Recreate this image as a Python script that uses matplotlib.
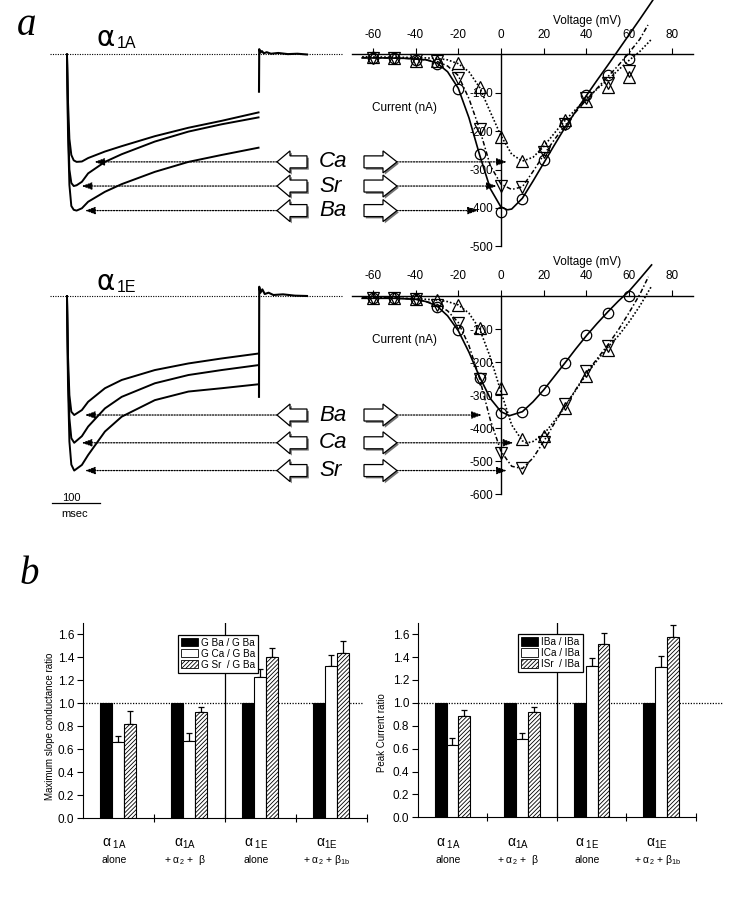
import numpy as np
import matplotlib
matplotlib.use("Agg")
import matplotlib.pyplot as plt
from matplotlib.patches import Polygon, Patch

plt.rcParams['font.family'] = ['Liberation Sans', 'DejaVu Sans']
plt.rcParams['mathtext.fontset'] = 'custom'
plt.rcParams['mathtext.rm'] = 'Liberation Sans'
plt.rcParams['mathtext.it'] = 'Liberation Sans:italic'
plt.rcParams['hatch.linewidth'] = 0.6
plt.rcParams['axes.unicode_minus'] = False

# ------------------------------------------------------------------ data
# current traces (time in ms, current in nA)
trace_t_1A = [0, 2, 5, 9, 14, 20, 31, 44, 79, 114, 183, 253, 322, 399]
trace_1A_Ca = [0, -120, -220, -262, -276, -280, -279, -270, -253, -239, -213, -191, -173, -151]
trace_1A_Sr = [0, -170, -300, -335, -343, -341, -332, -310, -280, -260, -227, -201, -182, -164]
trace_1A_Ba = [0, -200, -340, -395, -405, -407, -401, -384, -358, -338, -306, -280, -262, -243]
tail_t_1A = [400, 400.5, 403, 406, 410, 416, 425, 440, 460, 480, 500]
tail_1A = [-97, 14, 5, 9, 3, 6, 2, 4, 1, 2, 0]

trace_t_1E = [0, 2, 5, 9, 15, 31, 44, 79, 114, 183, 253, 322, 399]
trace_1E_Ba = [0, -180, -300, -350, -360, -345, -320, -279, -254, -224, -204, -189, -174]
trace_1E_Ca = [0, -220, -370, -430, -444, -424, -395, -340, -305, -264, -239, -224, -209]
trace_1E_Sr = [0, -260, -440, -510, -528, -511, -481, -410, -365, -315, -289, -279, -267]
tail_t_1E = [400, 400.5, 403, 407, 412, 420, 430, 450, 475, 500]
tail_1E = [-305, 28, 10, 20, 6, 10, 3, 5, 1, 0]

# I-V relations (mV, nA)
iv_V = [-60, -50, -40, -30, -20, -10, 0, 10, 20, 30, 40, 50, 60]
iv_1A_Ba = [-10, -10, -14, -25, -90, -259, -410, -378, -275, -180, -106, -54, -13]
iv_1A_Ca = [-7, -10, -16, -16, -23, -84, -214, -279, -239, -171, -120, -86, -58]
iv_1A_Sr = [-8, -10, -14, -16, -62, -195, -343, -345, -253, -181, -113, -74, -42]
iv_1E_Ba = [-7, -7, -10, -34, -103, -249, -355, -350, -284, -202, -118, -52, 1]
iv_1E_Ca = [-5, -7, -10, -12, -27, -98, -279, -434, -422, -338, -241, -163, np.nan]
iv_1E_Sr = [-5, -7, -10, -27, -83, -251, -476, -521, -441, -327, -227, -150, np.nan]

# fitted curves
fit_1A_Ba_V = [-65, -55, -45, -35, -30, -25, -20, -15, -10, -5, 0, 3, 5, 10, 15, 20, 25, 30, 35, 40, 45, 50, 55, 60, 65, 71]
fit_1A_Ba_I = [-9, -9, -10, -14, -22, -45, -88, -165, -262, -350, -398, -405, -403, -375, -330, -283, -236, -190, -148, -107, -67, -28, 12, 52, 92, 141]
fit_1A_Ca_V = [-65, -50, -40, -30, -25, -20, -15, -10, -5, 0, 5, 10, 15, 20, 25, 30, 35, 40, 45, 50, 55, 60, 65, 70.5]
fit_1A_Ca_I = [-6, -7, -8, -10, -14, -24, -45, -86, -150, -212, -260, -278, -268, -240, -205, -172, -143, -116, -90, -66, -40, -15, 8, 40]
fit_1A_Sr_V = [-65, -50, -40, -30, -25, -20, -15, -10, -5, 0, 5, 10, 15, 20, 25, 30, 35, 40, 45, 50, 55, 60, 65, 68.8]
fit_1A_Sr_I = [-8, -9, -11, -18, -30, -55, -115, -195, -290, -338, -352, -345, -305, -262, -222, -185, -150, -118, -88, -58, -28, 5, 40, 77]
fit_1E_Ba_V = [-65, -50, -40, -35, -30, -25, -20, -15, -10, -5, 0, 4, 10, 15, 20, 25, 30, 35, 40, 45, 50, 55, 60, 65, 70.5]
fit_1E_Ba_I = [-7, -7, -10, -17, -30, -60, -105, -170, -245, -310, -350, -362, -350, -320, -284, -243, -202, -160, -120, -83, -48, -15, 15, 52, 94]
fit_1E_Ca_V = [-65, -50, -40, -30, -25, -20, -15, -10, -5, 0, 5, 10, 12, 15, 20, 25, 30, 35, 40, 45, 50, 55, 60, 65, 70.5]
fit_1E_Ca_I = [-5, -6, -8, -12, -17, -27, -52, -100, -185, -290, -390, -438, -445, -440, -418, -378, -333, -285, -236, -195, -155, -120, -78, -30, 30]
fit_1E_Sr_V = [-65, -50, -40, -30, -25, -20, -15, -10, -5, 0, 5, 10, 15, 20, 25, 30, 35, 40, 45, 50, 55, 60, 65, 69]
fit_1E_Sr_I = [-5, -6, -9, -25, -45, -80, -150, -250, -375, -470, -515, -522, -490, -440, -385, -333, -283, -232, -190, -148, -102, -50, 5, 58]

# bar charts
groups = ["1A alone", "1A + a2 + b", "1E alone", "1E + a2 + b1b"]
g_Ba = [1.0, 1.0, 1.0, 1.0]
g_Ca = [0.66, 0.67, 1.23, 1.33]
g_Ca_err = [0.06, 0.07, 0.07, 0.09]
g_Sr = [0.82, 0.925, 1.40, 1.435]
g_Sr_err = [0.11, 0.045, 0.08, 0.11]
p_Ba = [1.0, 1.0, 1.0, 1.0]
p_Ca = [0.635, 0.684, 1.322, 1.316]
p_Ca_err = [0.058, 0.053, 0.073, 0.094]
p_Sr = [0.883, 0.924, 1.512, 1.576]
p_Sr_err = [0.056, 0.041, 0.097, 0.103]

cat_top = [r"$\mathrm{α}_{\ \mathrm{1A}}$", r"$\mathrm{α}_{\mathrm{1A}}$",
           r"$\mathrm{α}_{\ \mathrm{1E}}$", r"$\mathrm{α}_{\mathrm{1E}}$"]
cat_bot = ["alone", r"+ $\mathrm{α}_{2}$ +  β", "alone", r"+ $\mathrm{α}_{2}$ + $\mathrm{β}_{\mathrm{1b}}$"]
leg_G = ["G Ba / G Ba", "G Ca / G Ba", "G Sr  / G Ba"]
leg_I = ["IBa / IBa", "ICa / IBa", "ISr  / IBa"]

# ------------------------------------------------------------------ layout
W, H = 731, 900
fig = plt.figure(figsize=(W / 100, H / 100), dpi=100)


def px_axes(x0, y0, x1, y1):
    a = fig.add_axes([x0 / W, 1 - y1 / H, (x1 - x0) / W, (y1 - y0) / H])
    a.patch.set_alpha(0)
    return a


T_LIM = (-56.25, 589.6)
V_LIM = (-70.69, 107.68)
rows = [
    dict(y=(0, 260), ylim=(-535.85, 142.11), yt=[-100, -200, -300, -400, -500],
         traces=[("Ca", trace_1A_Ca), ("Sr", trace_1A_Sr), ("Ba", trace_1A_Ba)], t=trace_t_1A,
         tail=(tail_t_1A, tail_1A),
         iv={"Ba": iv_1A_Ba, "Ca": iv_1A_Ca, "Sr": iv_1A_Sr},
         fit={"Ba": (fit_1A_Ba_V, fit_1A_Ba_I), "Ca": (fit_1A_Ca_V, fit_1A_Ca_I), "Sr": (fit_1A_Sr_V, fit_1A_Sr_I)},
         ttip={"Ca": 57, "Sr": 30.6, "Ba": 37.5}, vtip={"Ca": 2.7, "Sr": -2.0, "Ba": -10.8},
         sub="1A", alpha_y=46, sub_y=48, volt_y=87, cur_y=-139.5),
    dict(y=(262, 530), ylim=(-707.8, 102.84), yt=[-100, -200, -300, -400, -500, -600],
         traces=[("Ba", trace_1E_Ba), ("Ca", trace_1E_Ca), ("Sr", trace_1E_Sr)], t=trace_t_1E,
         tail=(tail_t_1E, tail_1E),
         iv={"Ba": iv_1E_Ba, "Ca": iv_1E_Ca, "Sr": iv_1E_Sr},
         fit={"Ba": (fit_1E_Ba_V, fit_1E_Ba_I), "Ca": (fit_1E_Ca_V, fit_1E_Ca_I), "Sr": (fit_1E_Sr_V, fit_1E_Sr_I)},
         ttip={"Ba": 37.5, "Ca": 30.6, "Sr": 37.5}, vtip={"Ba": -9.0, "Ca": 5.8, "Sr": 2.7},
         sub="1E", alpha_y=290, sub_y=292, volt_y=103.8, cur_y=-133),
]
fit_style = {"Ba": dict(ls='-', lw=1.2), "Ca": dict(ls=(0, (1, 1.2)), lw=1.2),
             "Sr": dict(ls=(0, (3, 1.5, 1, 1.5)), lw=1.1)}
mk_style = {"Ba": dict(marker='o', ms=7.5), "Ca": dict(marker='^', ms=8.5), "Sr": dict(marker='v', ms=8.5)}

arrow_jobs = []
for r in rows:
    y0, y1 = r["y"]
    # traces
    tax = px_axes(40, y0, 350, y1)
    tax.set_xlim(*T_LIM)
    tax.set_ylim(*r["ylim"])
    tax.axis('off')
    tax.plot([-35.4, 572.9], [0, 0], color='black', ls=(0, (1, 1.2)), lw=0.8)
    for name, tr in r["traces"]:
        tax.plot(r["t"], tr, color='black', lw=1.4)
    tax.plot(r["tail"][0], r["tail"][1], color='black', lw=1.5)

    # I-V
    iax = px_axes(350, y0, W, y1)
    iax.set_xlim(*V_LIM)
    iax.set_ylim(*r["ylim"])
    for s in ['bottom', 'right']:
        iax.spines[s].set_visible(False)
    iax.spines['top'].set_position(('data', 0))
    iax.spines['top'].set_bounds(-69.8, 89.9)
    iax.spines['left'].set_position(('data', 0))
    iax.spines['left'].set_bounds(r["yt"][-1], 0)
    for s in ['top', 'left']:
        iax.spines[s].set_linewidth(1.0)
    iax.xaxis.set_ticks_position('top')
    iax.set_xticks([-60, -40, -20, 0, 20, 40, 60, 80])
    iax.yaxis.set_ticks_position('left')
    iax.set_yticks(r["yt"])
    iax.tick_params(axis='x', direction='out', length=4, pad=6, labelsize=8.5)
    iax.tick_params(axis='y', direction='out', length=4, pad=1.5, labelsize=8.5)
    for k in ["Ba", "Ca", "Sr"]:
        fv, fi = r["fit"][k]
        iax.plot(fv, fi, color='black', **fit_style[k])
    for k in ["Ba", "Ca", "Sr"]:
        iax.plot(iv_V, r["iv"][k], ls='none', mfc='none', mec='black', mew=0.9, **mk_style[k])
    iax.text(40.3, r["volt_y"], "Voltage (mV)", ha='center', va='center', fontsize=8.5)
    iax.text(-45.4, r["cur_y"], "Current (nA)", ha='center', va='center', fontsize=8.5)

    # dotted arrows linking trace peaks and I-V peaks
    for name, tr in r["traces"]:
        peak = min(tr)
        ap = dict(arrowstyle='-|>,head_length=0.6,head_width=0.22', color='black', lw=0.9,
                  ls=(0, (1, 1.2)), shrinkA=0, shrinkB=0, mutation_scale=10)
        tax.annotate("", xy=(r["ttip"][name], peak), xytext=(437.5, peak), arrowprops=ap)
        iax.annotate("", xy=(r["vtip"][name], peak), xytext=(-48.7, peak), arrowprops=ap)
        arrow_jobs.append((tax, name, peak))
    r["tax"] = tax

# ------------------------------------------------------------------ bar charts
xc = np.arange(4) + 0.5
bw = 0.171
bar_specs = [
    dict(box=(82.7, 623, 366.7, 818.3), vals=(g_Ba, g_Ca, g_Ca_err, g_Sr, g_Sr_err), leg=leg_G,
         ylabel="Maximum slope conductance ratio", ylab_xy=(-0.099, 0.47),
         leg_xy=(0.336, 0.94), dot_end=3.95),
    dict(box=(417.7, 622.7, 696, 817.3), vals=(p_Ba, p_Ca, p_Ca_err, p_Sr, p_Sr_err), leg=leg_I,
         ylabel="Peak Current ratio", ylab_xy=(-0.109, 0.436),
         leg_xy=(0.36, 0.942), dot_end=4.39),
]
for b in bar_specs:
    ax = px_axes(*b["box"])
    bx0, by0, bx1, by1 = b["box"]
    ba, ca, cae, sr, sre = b["vals"]
    ax.bar(xc - bw, ba, bw, color='black', edgecolor='black', lw=0.8, zorder=3)
    ax.bar(xc, ca, bw, color='white', edgecolor='black', lw=0.8, zorder=3)
    ax.bar(xc + bw, sr, bw, color='white', edgecolor='black', hatch='////////', lw=0.8, zorder=3)
    z = np.zeros(4)
    ax.errorbar(xc, ca, yerr=[z, cae], fmt='none', ecolor='black', elinewidth=0.9, capsize=2.5, capthick=0.9, zorder=2)
    ax.errorbar(xc + bw, sr, yerr=[z, sre], fmt='none', ecolor='black', elinewidth=0.9, capsize=2.5, capthick=0.9, zorder=2)
    ax.set_xlim(0, 4)
    ax.set_ylim(0, 1.7)
    ax.axvline(2, color='black', lw=0.9)
    ax.plot([0, b["dot_end"]], [1, 1], color='black', ls=(0, (1, 1.2)), lw=0.9, clip_on=False, zorder=1)
    for s in ['top', 'right']:
        ax.spines[s].set_visible(False)
    ax.set_xticks([1, 2, 3, 4])
    ax.set_xticklabels([])
    ax.tick_params(axis='x', direction='inout', length=6)
    ax.set_yticks(np.arange(0, 1.61, 0.2))
    ax.set_yticklabels([f"{v:.1f}" for v in np.arange(0, 1.61, 0.2)])
    ax.tick_params(axis='y', direction='out', length=4, labelsize=8.5, pad=2)
    ax.set_ylabel(b["ylabel"], fontsize=7)
    ax.yaxis.set_label_coords(*b["ylab_xy"])
    hgt = by1 - by0
    for i in range(4):
        ax.text(xc[i] - 0.06, (by1 - 847) / hgt, cat_top[i], transform=ax.get_xaxis_transform(),
                ha='center', va='baseline', fontsize=10)
        ax.text(xc[i] - 0.06, (by1 - 863) / hgt, cat_bot[i], transform=ax.get_xaxis_transform(),
                ha='center', va='baseline', fontsize=7.5)
    handles = [Patch(facecolor='black', edgecolor='black', lw=0.6),
               Patch(facecolor='white', edgecolor='black', lw=0.6),
               Patch(facecolor='white', edgecolor='black', hatch='////////', lw=0.6)]
    lg = ax.legend(handles, b["leg"], loc='upper left', bbox_to_anchor=b["leg_xy"], borderaxespad=0,
                   fontsize=7.2, handlelength=1.7, handleheight=0.9, labelspacing=0.1, borderpad=0.3,
                   handletextpad=0.3, fancybox=False, framealpha=1, edgecolor='black')
    lg.get_frame().set_linewidth(0.9)

# ------------------------------------------------------------------ overlay (annotation layer)
ov = fig.add_axes([0, 0, 1, 1])
ov.set_xlim(0, W)
ov.set_ylim(H, 0)
ov.axis('off')
ov.patch.set_alpha(0)


def block(xs, ys):
    ov.add_patch(Polygon(np.c_[np.array(xs) + 1.8, np.array(ys) + 1.8], closed=True,
                         facecolor='0.45', edgecolor='none'))
    ov.add_patch(Polygon(np.c_[xs, ys], closed=True, facecolor='white', edgecolor='black', lw=0.9))


for tax, name, peak in arrow_jobs:
    yp = H - tax.transData.transform((0, peak))[1]
    x0 = 277
    block([x0, x0 + 13, x0 + 13, x0 + 30, x0 + 30, x0 + 13, x0 + 13],
          [yp, yp - 11, yp - 6, yp - 6, yp + 6, yp + 6, yp + 11])
    x1 = 364
    block([x1, x1 + 19, x1 + 19, x1 + 33, x1 + 19, x1 + 19, x1],
          [yp - 6, yp - 6, yp - 11, yp, yp + 11, yp + 6, yp + 6])
    ov.text(319, yp, name, ha='left', va='center', fontsize=16, style='italic')

for r in rows:
    ov.text(96, r["alpha_y"], "α", ha='left', va='baseline', fontsize=20, family='DejaVu Sans')
    ov.text(117, r["sub_y"], r["sub"], ha='left', va='baseline', fontsize=11.5)

# scale bar on the lower trace panel
tb = rows[1]["tax"]
tb.plot([-32, 68], [-627, -627], color='black', lw=0.9, clip_on=False)
ov.text(71, 501, "100", ha='center', va='baseline', fontsize=8)
ov.text(75, 517, "msec", ha='center', va='baseline', fontsize=8)

ov.text(17, 35, "a", ha='left', va='baseline', fontsize=28, style='italic', family='Liberation Serif')
ov.text(20, 584, "b", ha='left', va='baseline', fontsize=28, style='italic', family='Liberation Serif')

fig.savefig("out.png", dpi=100)
